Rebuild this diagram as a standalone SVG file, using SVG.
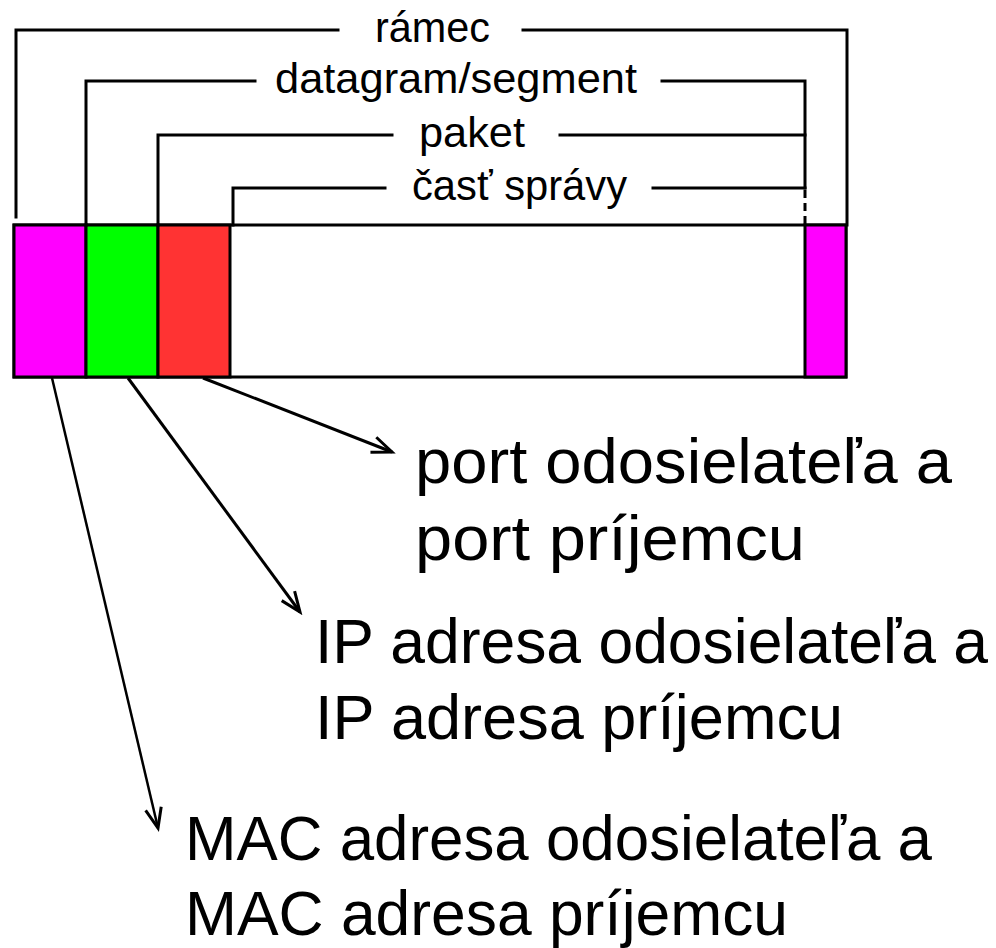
<svg xmlns="http://www.w3.org/2000/svg" width="996" height="948" viewBox="0 0 996 948">
<style>
.t{font-family:"Liberation Sans","DejaVu Sans",sans-serif;fill:#000}
.s{font-size:42px}
.b{font-size:63px}
.ln{stroke:#000;stroke-width:3;fill:none;stroke-linecap:square}
.cell{stroke:#000;stroke-width:3}
</style>
<defs>
<marker id="arr" markerUnits="userSpaceOnUse" markerWidth="26" markerHeight="26" refX="22" refY="10" viewBox="0 0 26 20" orient="auto">
<path d="M2,2 L22,10 L2,18" fill="none" stroke="#000" stroke-width="3"/>
</marker>
</defs>
<rect width="996" height="948" fill="#fff"/>
<g id="frame">
<rect class="cell" x="14" y="225" width="832" height="152" fill="#fff"/>
<rect class="cell" x="14" y="225" width="72" height="152" fill="#FF00FF"/>
<rect class="cell" x="86" y="225" width="72" height="152" fill="#00FF00"/>
<rect class="cell" x="158" y="225" width="72" height="152" fill="#FF3333"/>
<rect class="cell" x="805" y="225" width="41" height="152" fill="#FF00FF"/>
</g>
<g id="label-ramec">
<path class="ln" d="M16,217 L16,30 L338,30 M523,30 L847,30 L847,225"/>
<text class="t s" x="375" y="42" textLength="115" lengthAdjust="spacingAndGlyphs">rámec</text>
</g>
<g id="label-datagram">
<path class="ln" d="M86,225 L86,81 L255,81 M662,81 L805,81 L805,188"/>
<text class="t s" x="275" y="93" textLength="362" lengthAdjust="spacingAndGlyphs">datagram/segment</text>
</g>
<g id="label-paket">
<path class="ln" d="M158,225 L158,135 L392,135 M560,135 L805,135"/>
<text class="t s" x="419" y="147" textLength="106" lengthAdjust="spacingAndGlyphs">paket</text>
</g>
<g id="label-cast">
<path class="ln" d="M233,225 L233,188 L385,188 M653,188 L805,188"/>
<path d="M805,190 L805,225" stroke="#000" stroke-width="3" stroke-dasharray="8,5" fill="none"/>
<text class="t s" x="412" y="200" textLength="215" lengthAdjust="spacingAndGlyphs">časť správy</text>
</g>
<g id="connectors">
<line x1="203" y1="378" x2="392" y2="452" stroke="#000" stroke-width="3" marker-end="url(#arr)"/>
<line x1="128" y1="378" x2="300" y2="612" stroke="#000" stroke-width="3" marker-end="url(#arr)"/>
<line x1="52" y1="378" x2="158" y2="828" stroke="#000" stroke-width="2.5" marker-end="url(#arr)"/>
</g>
<g id="port-text">
<text class="t b" x="415" y="483" textLength="537" lengthAdjust="spacingAndGlyphs">port odosielateľa a</text>
<text class="t b" x="415" y="560" textLength="390" lengthAdjust="spacingAndGlyphs">port príjemcu</text>
</g>
<g id="ip-text">
<text class="t b" x="315" y="663" textLength="673" lengthAdjust="spacingAndGlyphs">IP adresa odosielateľa a</text>
<text class="t b" x="315" y="739" textLength="528" lengthAdjust="spacingAndGlyphs">IP adresa príjemcu</text>
</g>
<g id="mac-text">
<text class="t b" x="185" y="860" textLength="747" lengthAdjust="spacingAndGlyphs">MAC adresa odosielateľa a</text>
<text class="t b" x="185" y="935" textLength="603" lengthAdjust="spacingAndGlyphs">MAC adresa príjemcu</text>
</g>
</svg>
